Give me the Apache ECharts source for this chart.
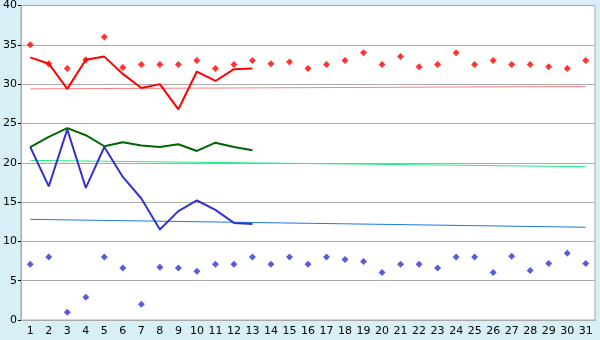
<!DOCTYPE html>
<html>
<head>
<meta charset="utf-8">
<script src="https://cdn.jsdelivr.net/npm/echarts@6/dist/echarts.min.js"></script>
<style>html,body{margin:0;padding:0;background:#d8eff7;}#c{width:600px;height:340px;}</style>
</head>
<body>
<div id="c"></div>
<script>
var days = ['1','2','3','4','5','6','7','8','9','10','11','12','13','14','15','16','17','18','19','20','21','22','23','24','25','26','27','28','29','30','31'];
var yTicks = {min: 0, max: 40, interval: 5};

var redPoints = [35.0,32.6,32.0,33.1,36.0,32.1,32.5,32.5,32.5,33.0,32.0,32.5,33.0,32.6,32.8,32.0,32.5,33.0,34.0,32.5,33.5,32.2,32.5,34.0,32.5,33.0,32.5,32.5,32.2,32.0,33.0];
var bluePoints = [7.1,8.0,1.0,2.9,8.0,6.6,2.0,6.7,6.6,6.2,7.1,7.1,8.0,7.1,8.0,7.1,8.0,7.7,7.45,6.05,7.1,7.1,6.6,8.0,8.0,6.05,8.1,6.3,7.2,8.5,7.2];

var redLine = [33.4,32.6,29.4,33.1,33.5,31.3,29.5,30.0,26.8,31.6,30.4,31.9,32.0];
var greenLine = [22.0,23.3,24.4,23.5,22.1,22.6,22.2,22.0,22.35,21.5,22.55,22.0,21.6];
var blueLine = [22.0,17.0,24.25,16.8,22.0,18.2,15.45,11.5,13.85,15.2,14.0,12.35,12.2];

var redTrend = [[0, 29.4], [30, 29.7]];
var greenTrend = [[0, 20.3], [30, 19.5]];
var blueTrend = [[0, 12.8], [30, 11.8]];

var chart = echarts.init(document.getElementById('c'), null, {renderer: 'canvas'});
var font = 'DejaVu Sans';
chart.setOption({
  backgroundColor: '#d8eff7',
  animation: false,
  grid: {left: 20, top: 5, right: 5, bottom: 20, show: true, backgroundColor: '#ffffff', borderColor: '#aaaaaa', borderWidth: 1},
  xAxis: {
    type: 'category', data: days, boundaryGap: true,
    axisLine: {lineStyle: {color: '#aaaaaa', width: 1}},
    axisTick: {alignWithLabel: true, length: 5, lineStyle: {color: '#000'}},
    axisLabel: {color: '#000', fontFamily: font, fontSize: 11, margin: 6, interval: 0},
    splitLine: {show: false}
  },
  yAxis: {
    type: 'value', min: yTicks.min, max: yTicks.max, interval: yTicks.interval,
    axisLine: {show: true, lineStyle: {color: '#aaaaaa', width: 1}},
    axisTick: {show: true, length: 3, lineStyle: {color: '#000'}},
    axisLabel: {color: '#000', fontFamily: font, fontSize: 11, margin: 4},
    splitLine: {lineStyle: {color: '#aaaaaa', width: 1}}
  },
  series: [
    {type: 'line', data: redTrend, symbol: 'none', lineStyle: {color: '#ff8080', width: 1}, z: 1},
    {type: 'line', data: greenTrend, symbol: 'none', lineStyle: {color: '#20f080', width: 1}, z: 1},
    {type: 'line', data: blueTrend, symbol: 'none', lineStyle: {color: '#1a7ae8', width: 1}, z: 1},
    {type: 'line', data: redLine, symbol: 'none', lineStyle: {color: '#ff0000', width: 2}, z: 2},
    {type: 'line', data: greenLine, symbol: 'none', lineStyle: {color: '#006600', width: 2}, z: 2},
    {type: 'line', data: blueLine, symbol: 'none', lineStyle: {color: '#3333cc', width: 2}, z: 2},
    {type: 'scatter', data: redPoints, symbol: 'diamond', symbolSize: 7, itemStyle: {color: '#ff0000'}, z: 3},
    {type: 'scatter', data: bluePoints, symbol: 'diamond', symbolSize: 7, itemStyle: {color: '#3333cc'}, z: 3}
  ]
});
</script>
</body>
</html>
